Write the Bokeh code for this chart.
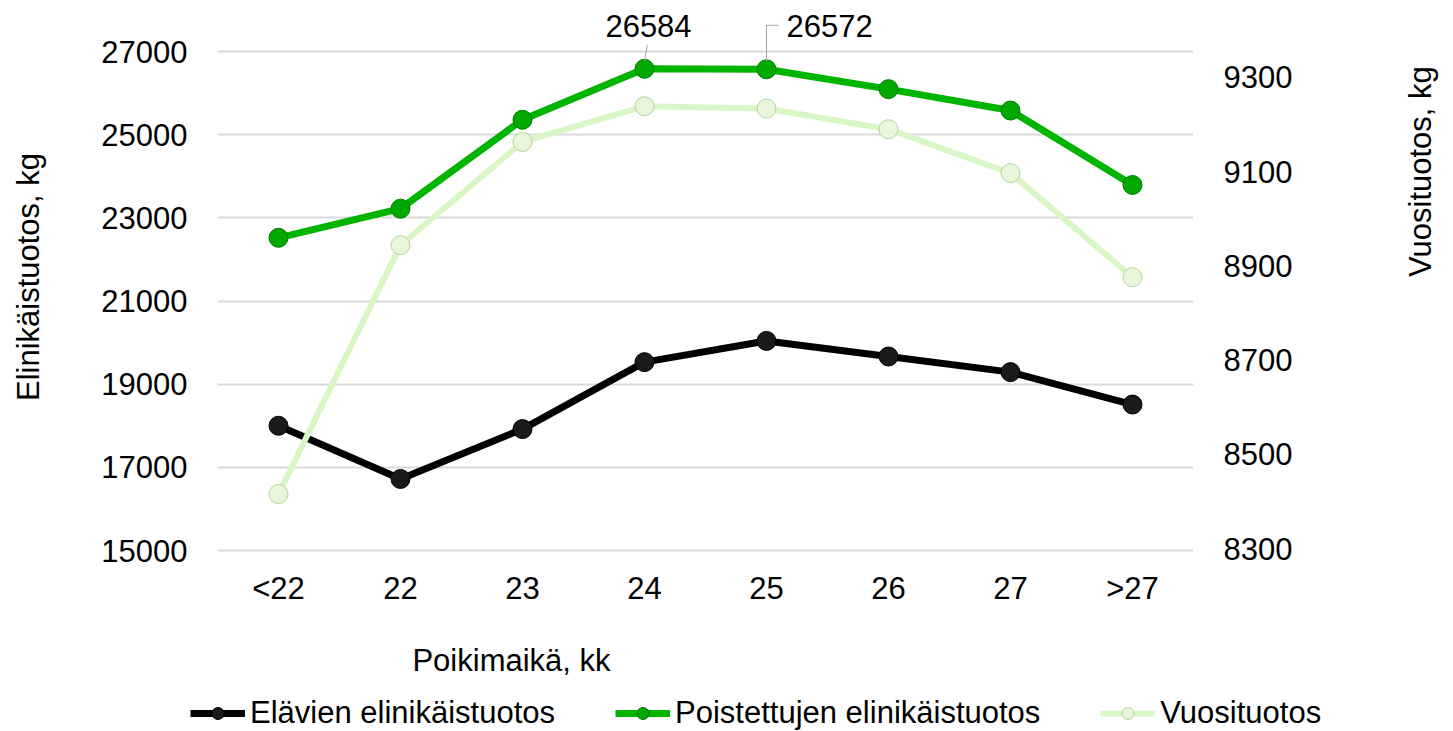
import math
from bokeh.plotting import figure
from bokeh.models import (Range1d, LinearAxis, FixedTicker, Label, Legend, LegendItem,
                          Arrow, ColumnDataSource, FactorRange, BasicTickFormatter)
from bokeh.embed import file_html
from bokeh.resources import INLINE

# ---------------- data ----------------
categories = ["<22", "22", "23", "24", "25", "26", "27", ">27"]
elavien = [18000, 16720, 17920, 19530, 20040, 19665, 19290, 18510]
poistettujen = [22520, 23220, 25360, 26584, 26572, 26095, 25580, 23790]
vuosituotos = [8416, 8944, 9163, 9239, 9234, 9190, 9097, 8876]
left_ticks = [15000, 17000, 19000, 21000, 23000, 25000, 27000]
right_ticks = [8300, 8500, 8700, 8900, 9100, 9300]
labelled = ["24", "25"]
series_names = ["Elävien elinikäistuotos", "Poistettujen elinikäistuotos", "Vuosituotos"]

FONT = "Liberation Sans"
FS = "31px"

dpp = 12000 / 499.0    # left-axis data units per pixel
rpp = 1000 / 471.0     # right-axis data units per pixel
TOP_PAD, BOT_PAD = 51, 3
TOTAL_W, TOTAL_H = 1445, 731
FRAME_H = 499 + TOP_PAD + BOT_PAD
BOTTOM_BORDER = 66

p = figure(frame_width=976, frame_height=FRAME_H,
           x_range=FactorRange(factors=categories, range_padding=0),
           y_range=Range1d(15000 - BOT_PAD * dpp, 27000 + TOP_PAD * dpp),
           output_backend="svg", toolbar_location=None,
           min_border_left=217, min_border_right=252, min_border_top=0,
           min_border_bottom=BOTTOM_BORDER)
p.outline_line_color = None
p.background_fill_color = None
p.border_fill_color = "white"

p.extra_y_ranges = {"right": Range1d(8296 - BOT_PAD * rpp, 9355 + TOP_PAD * rpp)}

# axes
p.xaxis.axis_line_color = None
p.xaxis.major_tick_line_color = None
p.xaxis.minor_tick_line_color = None
p.xaxis.major_label_text_font = FONT
p.xaxis.major_label_text_font_size = FS
p.xaxis.major_label_text_color = "black"
p.xaxis.major_label_standoff = 11

p.yaxis.ticker = FixedTicker(ticks=left_ticks)
p.yaxis.formatter = BasicTickFormatter(use_scientific=False)
p.yaxis.axis_line_color = None
p.yaxis.major_tick_line_color = None
p.yaxis.minor_tick_line_color = None
p.yaxis.major_label_text_font = FONT
p.yaxis.major_label_text_font_size = FS
p.yaxis.major_label_text_color = "black"
p.yaxis.major_label_standoff = 24
p.yaxis.axis_label = "Elinikäistuotos, kg"
p.yaxis.axis_label_text_font = FONT
p.yaxis.axis_label_text_font_size = FS
p.yaxis.axis_label_text_font_style = "normal"
p.yaxis.axis_label_text_color = "black"
p.yaxis.axis_label_standoff = 52

ra = LinearAxis(y_range_name="right", ticker=FixedTicker(ticks=right_ticks),
                formatter=BasicTickFormatter(use_scientific=False))
ra.axis_line_color = None
ra.major_tick_line_color = None
ra.minor_tick_line_color = None
ra.major_label_text_font = FONT
ra.major_label_text_font_size = FS
ra.major_label_text_color = "black"
ra.major_label_standoff = 24
ra.axis_label = "Vuosituotos, kg"
ra.axis_label_text_font = FONT
ra.axis_label_text_font_size = FS
ra.axis_label_text_font_style = "normal"
ra.axis_label_text_color = "black"
ra.axis_label_standoff = 125
ra.axis_label_orientation = math.pi / 2
p.add_layout(ra, "right")

p.xgrid.grid_line_color = None
p.ygrid.ticker = FixedTicker(ticks=left_ticks)
p.ygrid.grid_line_color = "#d9d9d9"
p.ygrid.grid_line_width = 2

src = ColumnDataSource(dict(cat=categories, ela=elavien, poi=poistettujen, vuo=vuosituotos))

STY = [
    dict(col="ela", lc="black", lw=7, fc="#1a1a1a", mc="#000000", rng="default"),
    dict(col="poi", lc="#00b400", lw=7, fc="#00a800", mc="#007d00", rng="default"),
    dict(col="vuo", lc="#d9f7c6", lw=6, fc="#e8f6dc", mc="#b5d49e", rng="right"),
]

for st in STY:
    p.line("cat", st["col"], source=src, line_color=st["lc"], line_width=st["lw"],
           y_range_name=st["rng"])
    p.scatter("cat", st["col"], source=src, size=19, fill_color=st["fc"], line_color=st["mc"],
              line_width=1, y_range_name=st["rng"])

# data labels with leader lines
for cat in labelled:
    i = categories.index(cat)
    v = poistettujen[i]
    xc = i + 0.5
    if cat == "24":
        p.add_layout(Arrow(x_start=xc, y_start=v + 8 * dpp, x_end=xc + 3 / 122, y_end=v + 24 * dpp,
                           end=None, line_color="#a6a6a6", line_width=1))
        p.add_layout(Label(x=xc + 4 / 122, y=v + 43 * dpp, text=str(v), text_align="center",
                           text_baseline="middle", text_font=FONT, text_font_size=FS,
                           text_color="black"))
    else:
        p.add_layout(Arrow(x_start=xc, y_start=v + 8 * dpp, x_end=xc, y_end=v + 44 * dpp,
                           end=None, line_color="#a6a6a6", line_width=1))
        p.add_layout(Arrow(x_start=xc, y_start=v + 44 * dpp, x_end=xc + 12 / 122, y_end=v + 44 * dpp,
                           end=None, line_color="#a6a6a6", line_width=1))
        p.add_layout(Label(x=xc + 20 / 122, y=v + 43 * dpp, text=str(v), text_align="left",
                           text_baseline="middle", text_font=FONT, text_font_size=FS,
                           text_color="black"))

# ---------------- bottom strip (separate root): x title + legend ----------------
top_h = FRAME_H + BOTTOM_BORDER
strip_h = TOTAL_H - top_h
p2 = figure(width=TOTAL_W, height=strip_h, x_range=Range1d(0, TOTAL_W), y_range=Range1d(0, strip_h),
            x_axis_type=None, y_axis_type=None, output_backend="svg", toolbar_location=None,
            min_border=0)
p2.outline_line_color = None
p2.background_fill_color = "white"
p2.border_fill_color = "white"
p2.grid.visible = False

p2.add_layout(Label(x=511, y=TOTAL_H - 660, text="Poikimaikä, kk", text_align="center",
                    text_baseline="middle", text_font=FONT, text_font_size=FS, text_color="black"))

# legend proxies: the same series, drawn on this strip's pixel ranges (they fall outside it)
src2 = ColumnDataSource(dict(idx=list(range(len(categories))), ela=elavien, poi=poistettujen,
                             vuo=vuosituotos))
items = []
for name, st in zip(series_names, STY):
    rl = p2.line("idx", st["col"], source=src2, line_color=st["lc"], line_width=st["lw"])
    rm = p2.scatter("idx", st["col"], source=src2, size=19, fill_color=st["fc"],
                    line_color=st["mc"], line_width=1)
    items.append(LegendItem(label=name, renderers=[rl, rm]))

legend = Legend(items=items, location=(190, 0), orientation="horizontal")
legend.padding = 0
legend.margin = 0
legend.border_line_color = None
legend.background_fill_alpha = 0
legend.label_text_font = FONT
legend.label_text_font_size = FS
legend.label_text_color = "black"
legend.glyph_width = 55
legend.glyph_height = 30
legend.label_standoff = 5
legend.spacing = 60
p2.add_layout(legend)

open("out.html", "w").write(file_html([p, p2], INLINE))
